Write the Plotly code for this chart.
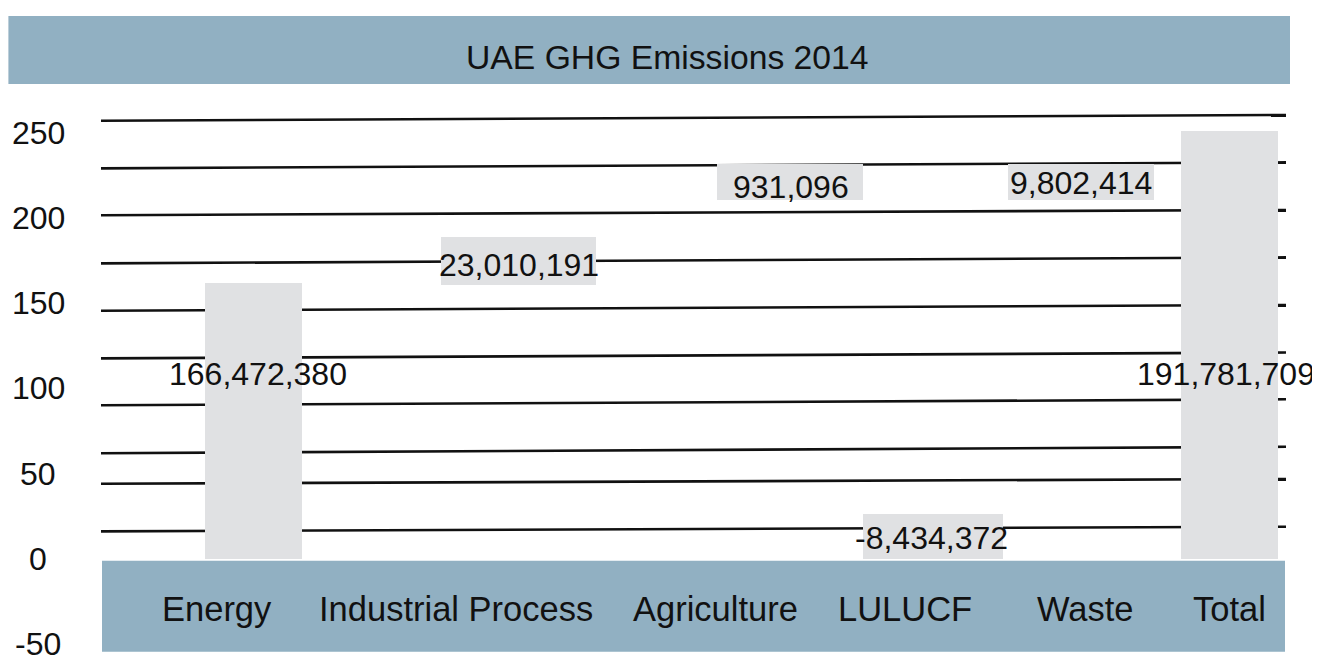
import plotly.graph_objects as go

# ---------------- data ----------------
categories = ["Energy", "Industrial Process", "Agriculture", "LULUCF", "Waste", "Total"]
emissions = [166472380, 23010191, 931096, -8434372, 9802414, 191781709]
# bar / box extents (axis units)
bar_base = [0, 160.6, 210.4, 0, 210.4, 0]
bar_top = [161.8, 188.6, 231.5, 26.4, 231.5, 250.9]
y_ticks = [250, 200, 150, 100, 50, 0, -50]
# gridline levels (left end, right end)
grid_left = [256.9, 229.0, 201.5, 173.3, 145.5, 117.6, 90.1, 62.0, 44.1, 16.2]
grid_right = [260.3, 232.5, 204.6, 176.8, 148.9, 121.0, 93.6, 65.8, 46.9, 18.9]
title_text = "UAE GHG Emissions 2014"

# ---------------- layout positions (x in horizontal units of the canvas) ----------------
bar_center = [253.4, 518.5, 789.9, 933.0, 1080.9, 1229.4]
bar_width = [96.8, 155.0, 146.1, 140.0, 145.7, 96.8]
label_x = [257.5, 518.5, 790.5, 931.9, 1080.9, 1226.0]
label_y = [108.4, 172.5, 218.3, 12.1, 220.2, 108.4]
cat_x = [216.8, 456.2, 715.6, 904.5, 1085.4, 1229.0]
cat_y = -29.3
tick_x = 38
grid_x0, grid_x1 = 101, 1286

BAND = "#91b0c2"
GRAY = "#e0e1e3"
FONT = "Liberation Sans, Arial, sans-serif"

# the page body has an 8px margin; the figure is sized to fill the rest of the window
PAGE_OFF = 8
W, H = 1320, 655
SCALE = 1.706   # px per unit
ZERO_PX = 559

fig = go.Figure()

fig.add_trace(go.Bar(
    x=bar_center,
    y=[t - b for t, b in zip(bar_top, bar_base)],
    base=bar_base,
    width=bar_width,
    marker=dict(color=GRAY, line=dict(width=0)),
    hoverinfo="skip",
    showlegend=False,
))

shapes = []
for yl, yr in zip(grid_left, grid_right):
    shapes.append(dict(type="line", xref="x", yref="y", x0=grid_x0, x1=grid_x1,
                       y0=yl, y1=yr, line=dict(color="#111111", width=2.6), layer="below"))
shapes.append(dict(type="rect", xref="x", yref="y", x0=8.4, x1=1290, y0=278.4, y1=318.3,
                   fillcolor=BAND, line=dict(width=0), layer="above"))
shapes.append(dict(type="rect", xref="x", yref="y", x0=102, x1=1285, y0=-54.3, y1=-1.0,
                   fillcolor=BAND, line=dict(width=0), layer="above"))

annotations = []
for v, x, y in zip(emissions, label_x, label_y):
    annotations.append(dict(x=x, y=y, xref="x", yref="y", text=f"{v:,}", showarrow=False,
                            font=dict(family=FONT, size=32, color="#111111"),
                            xanchor="center", yanchor="middle"))
for c, x in zip(categories, cat_x):
    annotations.append(dict(x=x, y=cat_y, xref="x", yref="y", text=c, showarrow=False,
                            font=dict(family=FONT, size=34.5, color="#111111"),
                            xanchor="center", yanchor="middle"))
for t in y_ticks:
    annotations.append(dict(x=tick_x, y=t, xref="x", yref="y", text=str(t), showarrow=False,
                            font=dict(family=FONT, size=32, color="#111111"),
                            xanchor="center", yanchor="middle"))
annotations.append(dict(x=667, y=294.4, xref="x", yref="y", text=title_text, showarrow=False,
                        font=dict(family=FONT, size=33.7, color="#111111"),
                        xanchor="center", yanchor="middle"))

fig.update_layout(
    width=W - PAGE_OFF, height=H - PAGE_OFF,
    margin=dict(l=0, r=0, t=0, b=0),
    paper_bgcolor="white", plot_bgcolor="white",
    xaxis=dict(range=[PAGE_OFF, W], visible=False, fixedrange=True),
    yaxis=dict(range=[(ZERO_PX - H) / SCALE, (ZERO_PX - PAGE_OFF) / SCALE],
               visible=False, fixedrange=True),
    shapes=shapes,
    annotations=annotations,
    showlegend=False,
    bargap=0,
)

fig.write_html("out.html")
